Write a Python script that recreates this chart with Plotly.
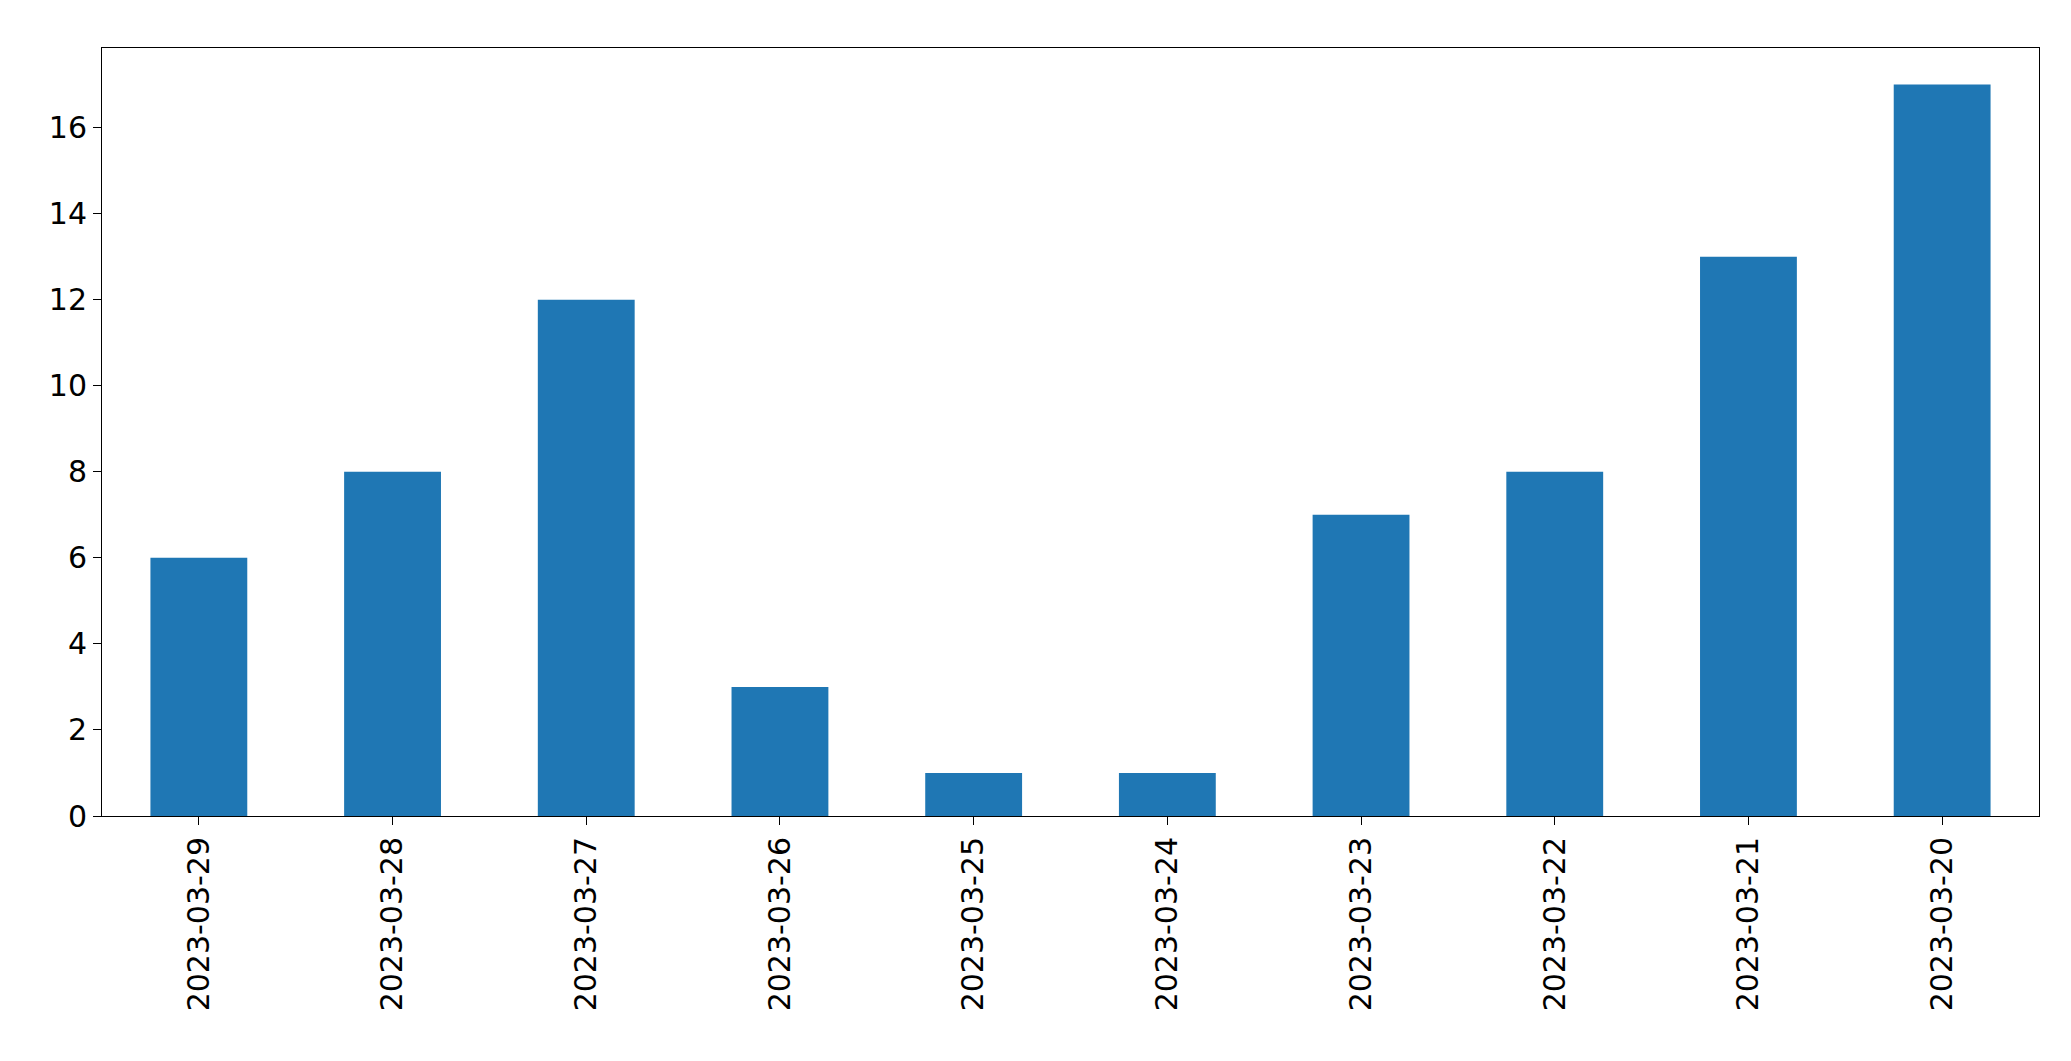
import plotly.graph_objects as go

# dates and counts
dates = ["2023-03-29", "2023-03-28", "2023-03-27", "2023-03-26", "2023-03-25",
         "2023-03-24", "2023-03-23", "2023-03-22", "2023-03-21", "2023-03-20"]
counts = [6, 8, 12, 3, 1, 1, 7, 8, 13, 17]
y_ticks = [0, 2, 4, 6, 8, 10, 12, 14, 16]

fig = go.Figure(go.Bar(x=dates, y=counts, marker_color="#1f77b4", width=0.5,
                       marker_line_width=0))

axis_common = dict(showline=True, linecolor="black", linewidth=1, mirror=True,
                   ticks="outside", ticklen=8, tickcolor="black", showgrid=False,
                   zeroline=False, tickfont=dict(family="DejaVu Sans", size=30, color="black"))

fig.update_xaxes(type="category", range=[-0.5, 9.5], tickangle=-90, **axis_common)
fig.update_yaxes(range=[0, 17.85], tickvals=y_ticks, **axis_common)

fig.update_layout(width=2071, height=1061, plot_bgcolor="white", paper_bgcolor="white",
                  margin=dict(l=94, r=40, t=40, b=253), showlegend=False)

fig.write_html("out.html")
